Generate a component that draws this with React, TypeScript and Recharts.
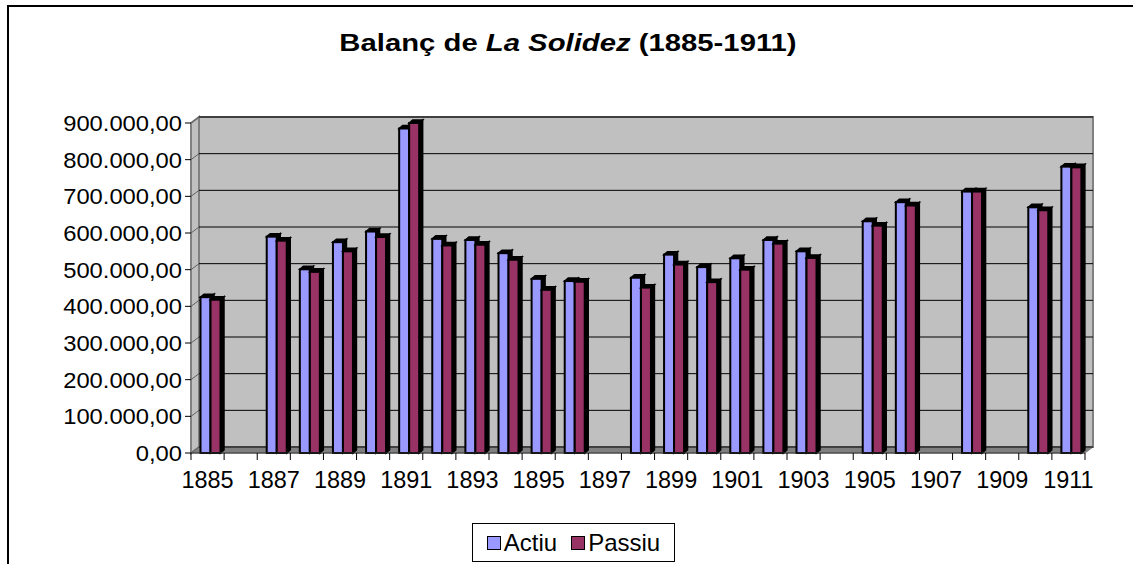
import React from 'react';
import { BarChart, Bar, XAxis, YAxis, CartesianGrid, Legend } from 'recharts';

const years = [
  '1885', '1886', '1887', '1888', '1889', '1890', '1891', '1892', '1893', '1894',
  '1895', '1896', '1897', '1898', '1899', '1900', '1901', '1902', '1903', '1904',
  '1905', '1906', '1907', '1908', '1909', '1910', '1911',
];
const actiu: (number | null)[] = [
  425000, null, 590000, 501000, 575000, 604000, 885000, 584000, 581000, 545000,
  475000, 469000, null, 478000, 541000, 507000, 531000, 581000, 550000, null,
  632000, 684000, null, 713000, null, 670000, 781000,
];
const passiu: (number | null)[] = [
  418000, null, 579000, 494000, 550000, 589000, 900000, 566000, 568000, 527000,
  445000, 467000, null, 451000, 514000, 466000, 500000, 571000, 532000, null,
  620000, 675000, null, 713000, null, 662000, 779000,
];
const yTicks = [0, 100000, 200000, 300000, 400000, 500000, 600000, 700000, 800000, 900000];
const seriesNames = ['Actiu', 'Passiu'];
const seriesColors = ['#9999FF', '#993366'];

const data = years.map((y, i) => ({ year: y, actiu: actiu[i], passiu: passiu[i] }));

const FONT = '"Liberation Sans", Arial, Helvetica, sans-serif';
const DX = 8;
const DY = 6;

const fmt = (v: number) =>
  Math.round(v).toString().replace(/\B(?=(\d{3})+(?!\d))/g, '.') + ',00';

function Bar3D(props: any) {
  const { x, y, width, height, fill } = props;
  if (height == null || !(height > 0)) return null;
  const d = 3.5;
  const e = 3;
  const x0 = x + 2.5;
  return (
    <g>
      <polygon
        points={`${x0 + width},${y} ${x0 + width + d},${y - e} ${x0 + width + d},${y + height - e} ${x0 + width},${y + height}`}
        fill="#000"
        stroke="#000"
        strokeWidth={1.5}
      />
      <polygon
        points={`${x0},${y} ${x0 + d},${y - e} ${x0 + width + d},${y - e} ${x0 + width},${y}`}
        fill="#000"
        stroke="#000"
        strokeWidth={1.5}
      />
      <rect x={x0} y={y} width={width} height={height} fill={fill} stroke="#000" strokeWidth={2} />
    </g>
  );
}

function gridLine(props: any) {
  const { x, y, width, height, y1, index } = props;
  return (
    <g key={`gl-${index}`}>
      {index === 0 && (
        <g>
          <rect x={x + DX} y={y - DY} width={width} height={height} fill="#C0C0C0" stroke="#808080" strokeWidth={2} />
          <polygon
            points={`${x},${y} ${x + DX},${y - DY} ${x + DX},${y + height - DY} ${x},${y + height}`}
            fill="#C0C0C0"
            stroke="#808080"
            strokeWidth={2}
          />
          <polygon
            points={`${x},${y + height} ${x + DX},${y + height - DY} ${x + width + DX},${y + height - DY} ${x + width},${y + height}`}
            fill="#808080"
            stroke="#808080"
            strokeWidth={1}
          />
        </g>
      )}
      <line x1={x} y1={y1} x2={x + DX} y2={y1 - DY} stroke="#606060" strokeWidth={1} />
      <line x1={x + DX} y1={y1 - DY} x2={x + width + DX} y2={y1 - DY} stroke="#000" strokeWidth={1} />
    </g>
  );
}

function XTick(props: any) {
  const { x, y, payload, index, visibleTicksCount } = props;
  const off = payload && payload.offset ? payload.offset : 16.55;
  const last = visibleTicksCount ? index === visibleTicksCount - 1 : payload.value === years[years.length - 1];
  return (
    <g>
      <line x1={x - off} y1={y} x2={x - off} y2={y + 7} stroke="#000" strokeWidth={1} />
      {last && <line x1={x + off} y1={y} x2={x + off} y2={y + 7} stroke="#000" strokeWidth={1} />}
      {index % 2 === 0 && (
        <g transform={`translate(${x},${y + 34.5}) scale(1.02,1)`}>
          <text x={0} y={0} textAnchor="middle" fontSize={23} fontFamily={FONT} fill="#000">
            {payload.value}
          </text>
        </g>
      )}
    </g>
  );
}

function YTick(props: any) {
  const { x, y, payload } = props;
  return (
    <g>
      <line x1={x - 6} y1={y} x2={x} y2={y} stroke="#000" strokeWidth={1} />
      <g transform={`translate(${x - 9},${y}) scale(1.08,1)`}>
        <text x={0} y={0} dy="0.36em" textAnchor="end" fontSize={22} fontFamily={FONT} fill="#000">
          {fmt(payload.value)}
        </text>
      </g>
    </g>
  );
}

function LegendContent(props: any) {
  const payload = props.payload || [];
  return (
    <div
      style={{
        width: 203,
        height: 39,
        boxSizing: 'border-box',
        border: '1px solid #000',
        background: '#fff',
        display: 'flex',
        alignItems: 'center',
        justifyContent: 'center',
        fontFamily: FONT,
        fontSize: 24,
        color: '#000',
      }}
    >
      {payload.map((p: any, i: number) => (
        <div key={i} style={{ display: 'flex', alignItems: 'center', marginLeft: i > 0 ? 14 : 0 }}>
          <span
            style={{
              display: 'inline-block',
              width: 14,
              height: 14,
              boxSizing: 'border-box',
              border: '1.5px solid #000',
              background: p.color,
              marginRight: 3,
            }}
          />
          <span>{p.value}</span>
        </div>
      ))}
    </div>
  );
}

export default function App() {
  return (
    <div style={{ position: 'absolute', left: 0, top: 0, width: 1133, height: 564, background: '#fff', overflow: 'hidden' }}>
      <div
        style={{
          position: 'absolute',
          left: 7,
          top: 5,
          width: 1300,
          height: 700,
          borderLeft: '2px solid #000',
          borderTop: '2px solid #000',
        }}
      />
      <div style={{ position: 'absolute', left: 0, top: 0 }}>
        <BarChart
          width={1133}
          height={564}
          data={data}
          margin={{ top: 123, right: 48, left: 0, bottom: 0 }}
          barGap={0}
          barSize={10}
        >
          <CartesianGrid vertical={false} horizontal={gridLine} fill="none" stroke="none" />
          <XAxis
            dataKey="year"
            interval={0}
            tickLine={false}
            tickSize={0}
            tickMargin={0}
            axisLine={{ stroke: '#303030', strokeWidth: 1 }}
            tick={XTick}
            height={72}
          />
          <YAxis
            width={191}
            domain={[0, 900000]}
            ticks={yTicks}
            interval={0}
            axisLine={false}
            tickLine={false}
            tickSize={0}
            tickMargin={0}
            tick={YTick}
          />
          <Legend
            verticalAlign="bottom"
            content={LegendContent}
            wrapperStyle={{ position: 'absolute', left: 472, top: 523, width: 203, height: 39 }}
          />
          <Bar dataKey="actiu" name={seriesNames[0]} fill={seriesColors[0]} shape={Bar3D} isAnimationActive={false} />
          <Bar dataKey="passiu" name={seriesNames[1]} fill={seriesColors[1]} shape={Bar3D} isAnimationActive={false} />
        </BarChart>
      </div>
      <svg width={1133} height={80} style={{ position: 'absolute', left: 0, top: 0 }}>
        <g transform="translate(568,50.5) scale(1.22,1)">
          <text x={0} y={0} textAnchor="middle" fontSize={24} fontWeight="bold" fontFamily={FONT} fill="#000">
            Balanç de <tspan fontStyle="italic">La Solidez</tspan> (1885-1911)
          </text>
        </g>
      </svg>
    </div>
  );
}
